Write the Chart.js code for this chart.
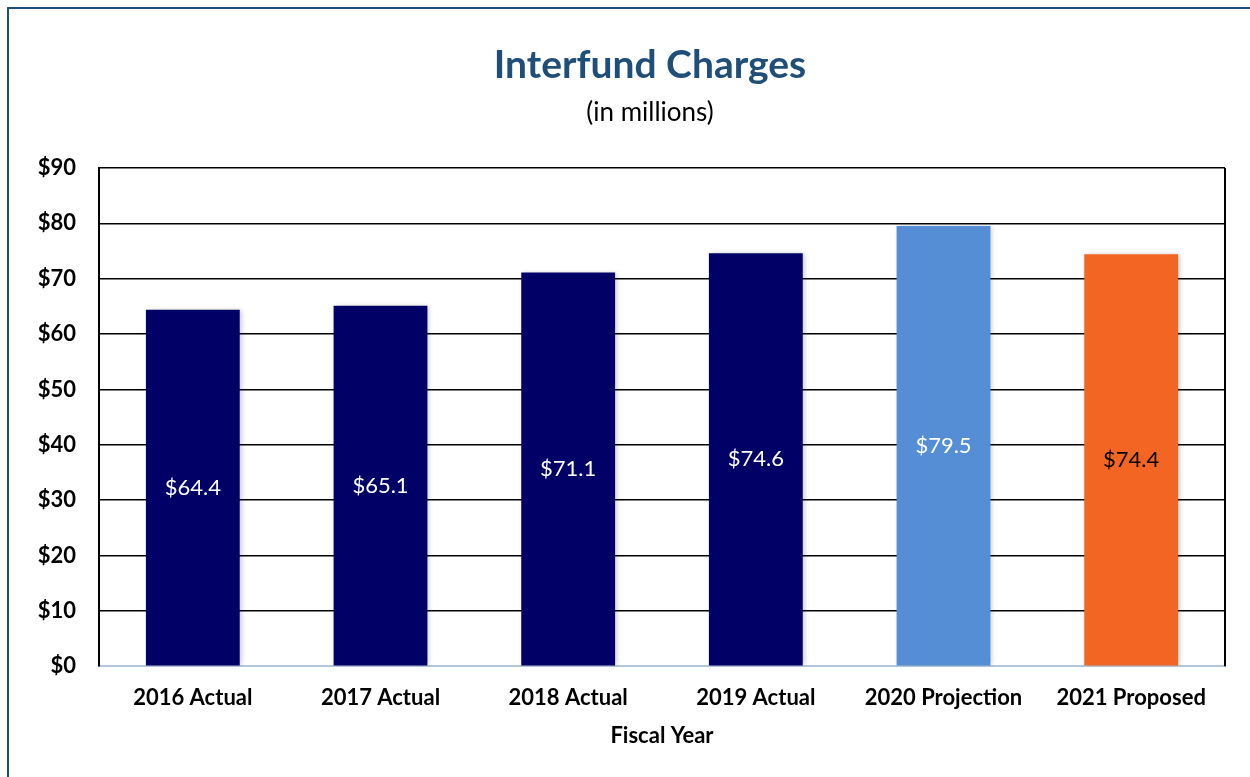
<!DOCTYPE html>
<html>
<head>
<meta charset="utf-8">
<title>Interfund Charges</title>
<script src="https://cdn.jsdelivr.net/npm/chart.js@4.4.1/dist/chart.umd.min.js"></script>
<style>
  html, body { margin: 0; padding: 0; background: #fff; }
  #wrap { position: relative; width: 1250px; height: 777px; }
  #frame {
    position: absolute; left: 7px; top: 7px; right: -10px; bottom: -10px;
    border-left: 2px solid #1F4E79; border-top: 2px solid #1F4E79;
  }
  canvas { position: absolute; left: 0; top: 0; }
</style>
</head>
<body>
<div id="wrap">
  <div id="frame"></div>
  <canvas id="chart" width="1250" height="777"></canvas>
</div>
<script>
const categories = ["2016 Actual", "2017 Actual", "2018 Actual", "2019 Actual", "2020 Projection", "2021 Proposed"];
const charges = [64.4, 65.1, 71.1, 74.6, 79.5, 74.4];
const barColors = ["#000066", "#000066", "#000066", "#000066", "#558ED5", "#F26522"];
const labelColors = ["#fff", "#fff", "#fff", "#fff", "#fff", "#000"];
const titleText = "Interfund Charges";
const subtitleText = "(in millions)";

const FONT = "Lato, 'Open Sans', sans-serif";

// heading block, centred over the whole frame rather than the plot
const heading = {
  id: "heading",
  afterDraw(chart) {
    const { ctx } = chart;
    ctx.save();
    ctx.textAlign = "center";
    ctx.textBaseline = "middle";
    ctx.fillStyle = "#1F4E79";
    ctx.font = "bold 39px " + FONT;
    ctx.fillText(titleText, 650, 65);
    ctx.fillStyle = "#000";
    ctx.font = "26px " + FONT;
    ctx.fillText(subtitleText, 650, 113);
    ctx.restore();
  }
};

// soft shadow on the right side of each bar
const barShadow = {
  id: "barShadow",
  beforeDatasetsDraw(chart) {
    const c = chart.ctx;
    c.save();
    c.shadowColor = "rgba(0,0,0,0.22)";
    c.shadowBlur = 5;
    c.shadowOffsetX = 2;
  },
  afterDatasetsDraw(chart) {
    chart.ctx.restore();
  }
};

// right edge of the plot frame
const plotFrame = {
  id: "plotFrame",
  afterDraw(chart) {
    const { ctx, chartArea: a } = chart;
    ctx.save();
    ctx.strokeStyle = "#000";
    ctx.lineWidth = 2;
    ctx.beginPath();
    ctx.moveTo(a.right, a.top);
    ctx.lineTo(a.right, a.bottom);
    ctx.stroke();
    ctx.restore();
  }
};

// value labels centred inside each bar
const barLabels = {
  id: "barLabels",
  afterDatasetsDraw(chart) {
    const { ctx } = chart;
    const meta = chart.getDatasetMeta(0);
    ctx.save();
    ctx.font = "22px " + FONT;
    ctx.textAlign = "center";
    ctx.textBaseline = "middle";
    meta.data.forEach((bar, i) => {
      ctx.fillStyle = labelColors[i];
      ctx.fillText("$" + charges[i].toFixed(1), bar.x, (bar.y + bar.base) / 2);
    });
    ctx.restore();
  }
};

new Chart(document.getElementById("chart"), {
  type: "bar",
  data: {
    labels: categories,
    datasets: [{
      data: charges,
      backgroundColor: barColors,
      borderWidth: 0,
      categoryPercentage: 1,
      barPercentage: 0.5
    }]
  },
  options: {
    responsive: false,
    animation: false,
    layout: { padding: { left: 0, right: 25, top: 168, bottom: 24 } },
    plugins: {
      legend: { display: false },
      tooltip: { enabled: false },
      title: { display: false }
    },
    scales: {
      x: {
        grid: { display: false },
        border: { color: "#B4C6DC", width: 2 },
        ticks: {
          color: "#000",
          font: { family: FONT, size: 22, weight: "bold" },
          padding: 11,
          maxRotation: 0
        },
        title: {
          display: true,
          text: "Fiscal Year",
          color: "#000",
          font: { family: FONT, size: 22, weight: "bold" },
          padding: { top: 0, bottom: 4 }
        }
      },
      y: {
        min: 0,
        max: 90,
        afterFit(scale) { scale.width = 99; },
        border: { color: "#000", width: 2 },
        grid: {
          drawTicks: false,
          lineWidth: 1.5,
          color: (c) => c.tick && c.tick.value === 0 ? "rgba(0,0,0,0)" : "#000"
        },
        ticks: {
          stepSize: 10,
          color: "#000",
          padding: 23,
          font: { family: FONT, size: 22, weight: "bold" },
          callback: (v) => "$" + v
        }
      }
    }
  },
  plugins: [barShadow, barLabels, plotFrame, heading]
});
</script>
</body>
</html>
